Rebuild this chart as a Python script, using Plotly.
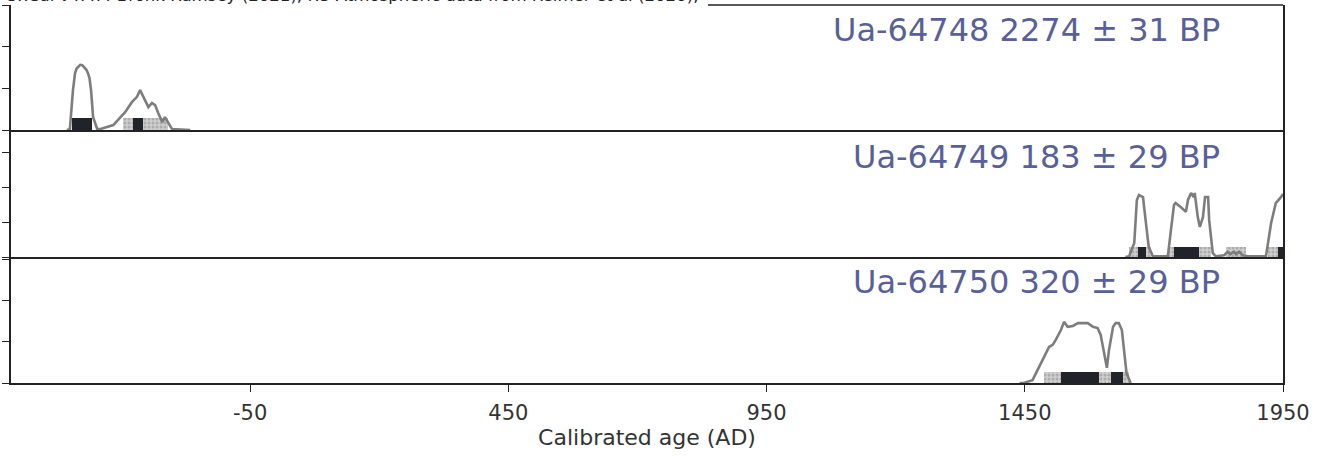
import plotly.graph_objects as go

# ---------------- data ----------------
labels = ["Ua-64748 2274 ± 31 BP", "Ua-64749 183 ± 29 BP", "Ua-64750 320 ± 29 BP"]
header_text = "OxCal v4.4.4 Bronk Ramsey (2021); r:5 Atmospheric data from Reimer et al (2020);"

years_1 = [-405, -399, -393, -389, -386, -379, -375, -370, -367, -364, -361, -358, -354, -346,
           -341, -315, -292, -279, -269, -263, -257, -247, -240, -234, -228, -220, -215, -209, -201, -166]
dens_1 = [0.0, 0.02, 0.96, 1.37, 1.48, 1.57, 1.56, 1.49, 1.45, 1.37, 1.25, 0.96, 0.31, 0.02,
          0.02, 0.12, 0.43, 0.67, 0.80, 0.96, 0.80, 0.55, 0.65, 0.60, 0.41, 0.19, 0.31, 0.17, 0.02, 0.0]
hpd95_1 = [(-395, -356), (-296, -209)]
hpd68_1 = [(-395, -356), (-277, -257)]

years_2 = [1645, 1652, 1662, 1667, 1671, 1679, 1681, 1686, 1690, 1698,
           1727, 1733, 1739, 1742, 1752, 1762, 1766, 1772, 1777, 1779, 1785, 1789, 1795, 1799, 1805, 1807, 1814, 1820,
           1836, 1843, 1848, 1855, 1859, 1865, 1872, 1882,
           1917, 1927, 1936, 1946, 1950]
dens_2 = [0.0, 0.02, 0.40, 1.63, 1.77, 1.71, 1.43, 0.77, 0.29, 0.02,
          0.02, 0.77, 1.49, 1.54, 1.43, 1.29, 1.63, 1.83, 1.71, 1.83, 1.14, 0.86, 1.14, 1.71, 1.71, 1.06, 0.11, 0.02,
          0.05, 0.15, 0.08, 0.15, 0.08, 0.15, 0.05, 0.02,
          0.02, 0.97, 1.54, 1.71, 1.80]
hpd95_2 = [(1652, 1694), (1729, 1811), (1839, 1878), (1921, 1950)]
hpd68_2 = [(1670, 1685), (1739, 1787), (1940, 1950)]

years_3 = [1440, 1448, 1465, 1475, 1487, 1497, 1504, 1510, 1520, 1526, 1533, 1543, 1553, 1562, 1572, 1582,
           1591, 1597, 1603, 1609, 1613, 1621, 1626, 1632, 1638, 1642, 1647, 1655]
dens_3 = [0.0, 0.0, 0.07, 0.32, 0.63, 0.88, 0.93, 1.05, 1.29, 1.49, 1.37, 1.39, 1.46, 1.46, 1.46, 1.37,
          1.34, 1.17, 0.80, 0.37, 0.80, 1.37, 1.46, 1.46, 1.29, 0.80, 0.24, 0.0]
hpd95_3 = [(1487, 1652)]
hpd68_3 = [(1520, 1593), (1617, 1640)]

x_ticks = [-50, 450, 950, 1450, 1950]
x_range = [-513, 1950]
y_ranges = [[0, 3.01], [0, 3.63], [0, 3.07]]
y_ticks = [0, 1, 2, 3]

panels = [(years_1, dens_1, hpd95_1, hpd68_1),
          (years_2, dens_2, hpd95_2, hpd68_2),
          (years_3, dens_3, hpd95_3, hpd68_3)]

# ---------------- layout constants ----------------
W, H = 1326, 457
ML, MR, MT, MB = 11, 43, 5, 74
PH = H - MT - MB
PW = W - ML - MR
domains = [[253 / PH, 1.0], [126 / PH, 253 / PH], [0.0, 126 / PH]]
label_y = [1 - 25 / PH, 1 - 152 / PH, 1 - 277 / PH]
BAR_H = 0.28
FONT = "DejaVu Sans"
AXC = "#222222"

fig = go.Figure()

for i, (yrs, dens, h95, h68) in enumerate(panels):
    xa = "x" if i == 0 else f"x{i+1}"
    ya = "y" if i == 0 else f"y{i+1}"
    # 95% ranges (stippled)
    fig.add_trace(go.Bar(
        orientation="h", base=[a for a, b in h95], x=[b - a for a, b in h95],
        y=[BAR_H / 2] * len(h95), width=BAR_H,
        marker=dict(color="#c4c4c4", line=dict(width=0),
                    pattern=dict(shape=".", fgcolor="#8a8a8a", bgcolor="#cfcfcf", size=4, solidity=0.45)),
        xaxis=xa, yaxis=ya, showlegend=False, hoverinfo="skip"))
    # 68% ranges (dark)
    fig.add_trace(go.Bar(
        orientation="h", base=[a for a, b in h68], x=[b - a for a, b in h68],
        y=[BAR_H / 2] * len(h68), width=BAR_H,
        marker=dict(color="#20242a", line=dict(width=0)),
        xaxis=xa, yaxis=ya, showlegend=False, hoverinfo="skip"))
    # probability curve
    fig.add_trace(go.Scatter(
        x=yrs, y=dens, mode="lines", line=dict(color="#7d7d7d", width=2.6, shape="linear"),
        xaxis=xa, yaxis=ya, showlegend=False, hoverinfo="skip", cliponaxis=True))

layout = dict(
    width=W, height=H, margin=dict(l=ML, r=MR, t=MT, b=MB),
    paper_bgcolor="white", plot_bgcolor="white",
    barmode="overlay", bargap=0,
    font=dict(family=FONT, color="#333333"),
    showlegend=False,
)

for i in range(3):
    sx = "" if i == 0 else str(i + 1)
    bottom = (i == 2)
    layout[f"xaxis{sx}"] = dict(
        domain=[0, 1], range=x_range, anchor=f"y{sx}",
        showgrid=False, zeroline=False,
        showline=True, linecolor=AXC, linewidth=1.5, mirror=False,
        tickvals=x_ticks, ticktext=[str(t) for t in x_ticks],
        ticks="outside" if bottom else "", ticklen=7, tickwidth=1.2, tickcolor=AXC,
        showticklabels=bottom,
        tickfont=dict(family=FONT, size=21, color="#333333"),
        ticklabelstandoff=3,
        automargin=False,
        matches=None if i == 0 else "x",
    )
    if bottom:
        layout[f"xaxis{sx}"]["title"] = dict(text="Calibrated age (AD)", standoff=4,
                                             font=dict(family=FONT, size=22, color="#333333"))
    layout[f"yaxis{sx}"] = dict(
        domain=domains[i], range=y_ranges[i], anchor=f"x{sx}",
        showgrid=False, zeroline=False,
        showline=True, linecolor=AXC, linewidth=1.5, mirror=True,
        tickvals=y_ticks, ticks="outside", ticklen=7, tickwidth=1.2, tickcolor=AXC,
        showticklabels=False, automargin=False,
    )

fig.update_layout(**layout)

# partial top border (left part hidden behind header text)
fig.add_shape(type="line", xref="paper", yref="paper",
              x0=(708 - ML) / PW, x1=1, y0=1, y1=1,
              line=dict(color=AXC, width=1.5))

# header text (mostly cut off at the top of the picture, as in the reference)
fig.add_annotation(text=header_text, xref="paper", yref="paper",
                   x=-8 / PW, y=1 - 2 / PH, xanchor="left", yanchor="bottom",
                   showarrow=False, font=dict(family=FONT, size=16.6, color="#222222"))

for i, lab in enumerate(labels):
    fig.add_annotation(text=lab, xref="paper", yref="paper",
                       x=(1222 - ML) / PW, y=label_y[i], xanchor="right", yanchor="middle",
                       showarrow=False, font=dict(family=FONT, size=32, color="#58609a"))

fig.write_html("out.html",
               config={"displayModeBar": False},
               post_script="document.body.style.margin='0';document.body.style.padding='0';"
                           "document.body.style.overflow='hidden';")
